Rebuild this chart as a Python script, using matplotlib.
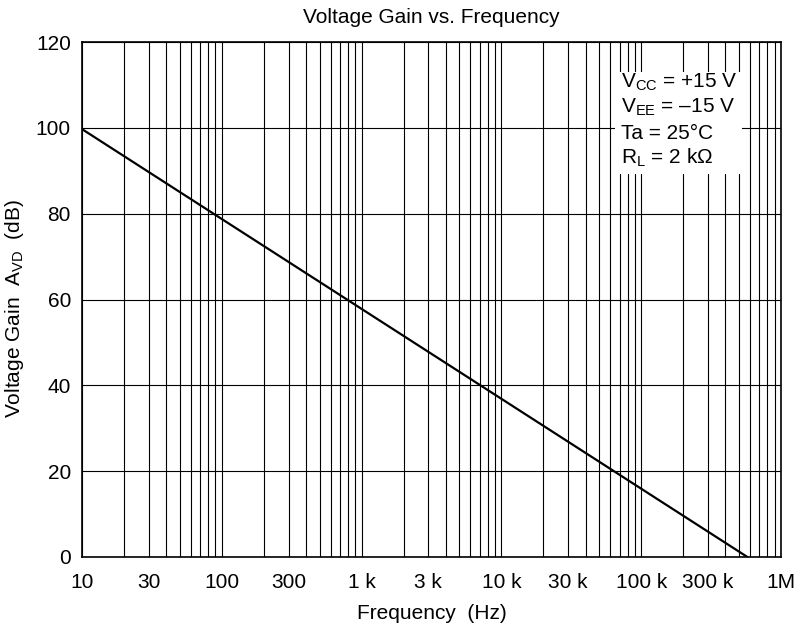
import matplotlib
matplotlib.use('Agg')
import matplotlib.pyplot as plt
from matplotlib.patches import Rectangle
from matplotlib.ticker import FixedLocator, NullFormatter

plt.rcParams['font.family'] = ['Liberation Sans', 'DejaVu Sans']
plt.rcParams['mathtext.fontset'] = 'custom'
plt.rcParams['mathtext.rm'] = 'Liberation Sans'
plt.rcParams['mathtext.it'] = 'Liberation Sans'
plt.rcParams['mathtext.default'] = 'rm'

W, H = 801, 628

# gain curve: (frequency Hz, gain dB)
freq = [10, 575000]
gain = [99.7, 0]

xticks = [10, 30, 100, 300, 1e3, 3e3, 1e4, 3e4, 1e5, 3e5, 1e6]
xticklabels = ['10', '30', '100', '300', '1 k', '3 k', '10 k', '30 k', '100 k', '300 k', '1M']
yticks = [0, 20, 40, 60, 80, 100, 120]

cond_lines = [r'V$_{\rm CC}$ = +15 V',
              r'V$_{\rm EE}$ = –15 V',
              'Ta = 25°C',
              r'R$_{\rm L}$ = 2 kΩ']

FS = 15

fig = plt.figure(figsize=(W / 100, H / 100), dpi=100)
ax = fig.add_axes((82 / W, (H - 557) / H, 699 / W, 515 / H))

ax.set_xscale('log')
ax.set_xlim(10, 1e6)
ax.set_ylim(0, 120)

# vertical grid on every 1..9 step of each decade
grid_x = [m * 10 ** d for d in range(1, 6) for m in range(1, 10)] + [1e6]
for gx in grid_x:
    ax.axvline(gx, color='black', lw=0.8, zorder=1)
for gy in yticks:
    ax.axhline(gy, color='black', lw=0.8, zorder=1)

# condition box hides the grid behind it
box = Rectangle((615 / W, (H - 174) / H), 127 / W, 102 / H,
                transform=fig.transFigure, facecolor='white', edgecolor='none', zorder=2)
fig.patches.append(box)
for line, base in zip(cond_lines, [88, 113, 139, 164]):
    fig.text(621 / W, (H - base) / H, line, ha='left', va='baseline',
             fontsize=FS, zorder=3)

ax.plot(freq, gain, color='black', lw=1.6, zorder=4)

ax.xaxis.set_major_locator(FixedLocator(xticks))
ax.set_xticklabels(xticklabels)
ax.xaxis.set_minor_locator(FixedLocator([]))
ax.xaxis.set_minor_formatter(NullFormatter())
ax.set_yticks(yticks)
ax.tick_params(axis='both', length=0, labelsize=FS)
ax.tick_params(axis='x', pad=11.5)
ax.tick_params(axis='y', pad=8)

for sp in ax.spines.values():
    sp.set_linewidth(1.2)
    sp.set_zorder(5)

ax.set_xlabel('Frequency  (Hz)', fontsize=FS, labelpad=9)
ax.set_ylabel(r'Voltage Gain  A$_{\rm VD}$  (dB)', fontsize=FS)
ax.yaxis.set_label_coords((26 - 82) / 699, 0.5 - 9 / 515)
ax.set_title('Voltage Gain vs. Frequency', fontsize=FS, pad=14)

fig.savefig('out.png', dpi=100)
